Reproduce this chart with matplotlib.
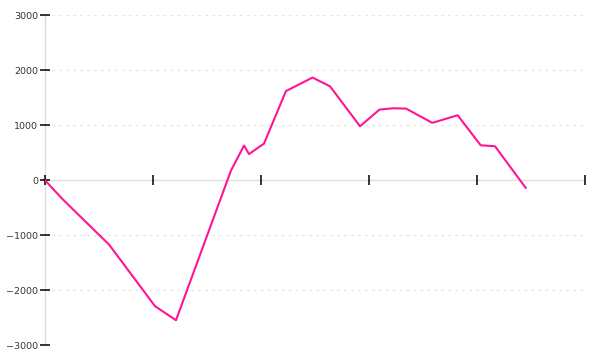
import matplotlib
matplotlib.use("Agg")
import matplotlib.pyplot as plt

x_vals = [0.0, 0.157, 0.204, 0.593, 1.019, 1.213, 1.722, 1.843, 1.889, 2.028,
          2.231, 2.477, 2.639, 2.917, 3.097, 3.227, 3.343, 3.586, 3.821, 4.034,
          4.167, 4.451]
y_vals = [0, -332, -423, -1168, -2287, -2541, 176, 630, 475, 666,
          1619, 1864, 1706, 980, 1283, 1307, 1301, 1042, 1180, 635,
          617, -138]
y_ticks = [-3000, -2000, -1000, 0, 1000, 2000, 3000]
x_ticks = [0, 1, 2, 3, 4, 5]

fig = plt.figure(figsize=(6, 3.6), dpi=100)
ax = fig.add_axes([0.075, 0.0403, 0.9, 0.918])

for yv in y_ticks:
    if yv != 0:
        ax.axhline(yv, color="#e6e6e6", lw=1, ls=(0, (2, 3)), zorder=0)

ax.plot(x_vals, y_vals, color="#ff1493", lw=1.5, zorder=3)

ax.set_xlim(0, 5)
ax.set_ylim(-3000, 3000)
ax.set_yticks(y_ticks)
ax.set_yticklabels([str(v).replace("-", "\u2212") for v in y_ticks])
ax.set_xticks(x_ticks)
ax.set_xticklabels([])

for s in ("top", "right"):
    ax.spines[s].set_visible(False)
for s in ("left", "bottom"):
    ax.spines[s].set_color("#dddddd")
    ax.spines[s].set_linewidth(1)
    ax.spines[s].set_zorder(1)
ax.spines["bottom"].set_position(("data", 0))
ax.xaxis.set_zorder(2)
ax.yaxis.set_zorder(2)

ax.tick_params(axis="y", direction="inout", length=7.5, width=1.1, color="black",
               labelsize=6.8, labelcolor="#333333", pad=1)
ax.tick_params(axis="x", direction="inout", length=6.5, width=1.1, color="black")

fig.savefig("out.png", dpi=100)
